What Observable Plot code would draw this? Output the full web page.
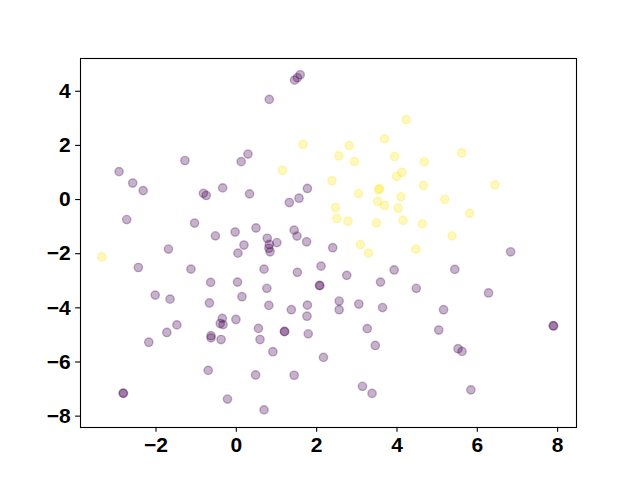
<!DOCTYPE html>
<html>
<head>
<meta charset="utf-8">
<script src="https://cdn.jsdelivr.net/npm/d3@7"></script>
<script src="https://cdn.jsdelivr.net/npm/@observablehq/plot@0.6"></script>
<style>
  html, body { margin: 0; padding: 0; background: #fff; }
</style>
</head>
<body>
<div id="chart"></div>
<script>
// Class 0 (viridis dark purple)
const purpleX = [-2.92,-2.58,-2.32,-1.28,-0.82,-0.75,-0.34,0.12,0.29,0.33,-2.73,-1.04,-0.52,-0.03,0.19,-1.69,
  1.45,1.52,1.59,0.82,1.77,1.56,1.32,0.49,0.77,0.82,0.81,0.84,1.01,1.44,1.51,1.75,2.40,6.83,
  -2.44,-1.13,0.04,-0.64,0.03,-2.02,-1.65,-0.67,0.14,-0.35,-0.40,-0.33,-0.01,-1.48,-1.73,-2.18,
  -0.63,-0.63,-0.38,-0.70,-2.82,-2.81,-0.22,0.69,1.52,2.11,2.75,3.93,3.59,0.76,2.07,2.08,
  0.81,1.37,1.77,1.76,2.56,2.56,3.05,3.64,0.55,0.59,1.20,1.20,1.79,3.26,3.46,0.91,2.17,
  0.48,1.44,3.14,3.38,0.69,5.44,4.48,6.28,5.16,7.89,7.90,5.04,5.52,5.62,5.84];
const purpleY = [1.03,0.61,0.33,1.44,0.23,0.15,0.43,1.40,1.68,0.21,-0.74,-0.87,-1.34,-1.20,-1.68,-1.83,
  4.41,4.50,4.61,3.70,0.41,0.05,-0.11,-1.05,-1.43,-1.66,-1.80,-1.93,-1.59,-1.13,-1.35,-1.56,-1.78,-1.93,
  -2.51,-2.57,-1.98,-3.06,-3.05,-3.53,-3.68,-3.82,-3.59,-4.39,-4.58,-4.62,-4.43,-4.63,-4.91,-5.27,
  -5.03,-5.11,-5.17,-6.31,-7.15,-7.16,-7.37,-2.57,-2.69,-2.46,-2.80,-2.60,-3.05,-3.28,-3.17,-3.18,
  -3.91,-4.07,-3.90,-4.31,-3.75,-4.07,-3.86,-3.99,-4.76,-5.17,-4.87,-4.88,-4.96,-4.77,-5.39,-5.62,-5.83,
  -6.48,-6.49,-6.90,-7.16,-7.77,-2.58,-3.28,-3.45,-4.07,-4.66,-4.67,-4.82,-5.51,-5.61,-7.03];

// Class 1 (viridis yellow)
const yellowX = [-3.35,1.66,1.15,2.81,2.55,2.94,3.69,4.23,3.94,3.99,4.12,2.38,3.04,3.54,3.57,4.10,3.52,3.69,
  4.03,2.47,2.50,2.78,3.49,4.15,3.09,3.29,5.61,4.68,4.66,6.44,5.19,5.81,4.63,5.37,4.47];
const yellowY = [-2.12,2.04,1.08,1.99,1.61,1.40,2.24,2.95,1.59,0.86,1.00,0.69,0.22,0.37,0.40,0.10,-0.07,-0.22,
  -0.32,-0.30,-0.70,-0.80,-0.86,-0.77,-1.66,-1.98,1.72,1.39,0.52,0.54,0.01,-0.51,-0.90,-1.34,-1.83];

const xTicks = [-2, 0, 2, 4, 6, 8];
const yTicks = [-8, -6, -4, -2, 0, 2, 4];

const purple = purpleX.map((x, i) => ({x, y: purpleY[i]}));
const yellow = yellowX.map((x, i) => ({x, y: yellowY[i]}));

const fmt = d => d < 0 ? "\u2212" + Math.abs(d) : String(d);
const dotStyle = (color) => ({
  x: "x", y: "y", r: 4.17, fill: color, stroke: color,
  strokeWidth: 1.39, fillOpacity: 0.3, strokeOpacity: 0.3
});

const chart = Plot.plot({
  width: 640,
  height: 480,
  marginLeft: 80,
  marginRight: 64,
  marginTop: 58,
  marginBottom: 53,
  style: {fontFamily: "'Liberation Sans', Arial, sans-serif", fontSize: "21px", fontWeight: "bold", color: "#000", background: "#fff"},
  x: {domain: [-3.88, 8.47]},
  y: {domain: [-8.42, 5.21]},
  marks: [
    Plot.dot(purple, dotStyle("#440154")),
    Plot.dot(yellow, dotStyle("#fde725")),
    Plot.frame({stroke: "#000", strokeWidth: 1.1}),
    Plot.axisX({ticks: xTicks, tickFormat: fmt, tickSize: 4.86, tickPadding: 4.86, label: null, strokeWidth: 1.1}),
    Plot.axisY({ticks: yTicks, tickFormat: fmt, tickSize: 4.86, tickPadding: 4.86, label: null, strokeWidth: 1.1})
  ]
});
document.getElementById("chart").appendChild(chart);
</script>
</body>
</html>
